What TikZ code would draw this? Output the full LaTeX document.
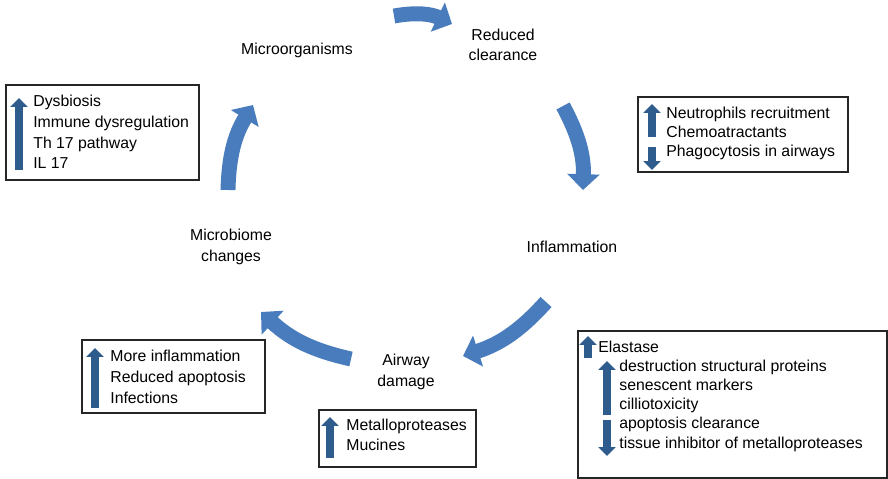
\documentclass[tikz,border=0pt]{standalone}
\usepackage{fontspec}
\setmainfont{Liberation Sans}
\usepackage{tikz}
\usetikzlibrary{arrows.meta}
\definecolor{cycleBlue}{RGB}{72,124,188}
\definecolor{markBlue}{RGB}{46,92,140}
\tikzset{every node/.style={font=\fontsize{9}{11.5}\selectfont}}
\tikzstyle{stage}=[align=center,anchor=base,inner sep=0pt]
\tikzstyle{listText}=[align=left,anchor=base west,inner sep=0pt]
\tikzstyle{infoBox}=[draw=black!85,line width=0.8pt]
\tikzstyle{cycleArrow}=[draw=cycleBlue,line width=8.5pt,-{Triangle[width=18pt,length=9pt]}]
\tikzstyle{markArrow}=[draw=markBlue,line width=4.6pt,-{Triangle[width=9.5pt,length=5pt]}]

\begin{document}
\begin{tikzpicture}[x=0.02cm,y=-0.02cm]
	\useasboundingbox (0,0) rectangle (888,479);

	% stages of the cycle
	\node at (297,55) [stage] (micro) {Microorganisms};
	\node at (503,61) [stage] (reduced) {Reduced\\clearance};
	\node at (572,253) [stage] (inflam) {Inflammation};
	\node at (406,386) [stage] (airway) {Airway\\damage};
	\node at (231,261) [stage] (microbiome) {Microbiome\\changes};

	% ends of the curved arrows
	\coordinate (a1) at (394,16);
	\coordinate (b1) at (452,24);
	\coordinate (a2) at (563,106);
	\coordinate (b2) at (583,190);
	\coordinate (a3) at (546,302);
	\coordinate (b3) at (463,356);
	\coordinate (a4) at (351,359);
	\coordinate (b4) at (261,312);
	\coordinate (a5) at (228,190);
	\coordinate (b5) at (253,105);

	\draw [cycleArrow] (a1) to[bend left=18] (b1);
	\draw [cycleArrow] (a2) to[bend left=15] (b2);
	\draw [cycleArrow] (a3) to[bend left=15] (b3);
	\draw [cycleArrow] (a4) to[bend left=15] (b4);
	\draw [cycleArrow] (a5) to[bend left=15] (b5);

	% boxes
	\draw [infoBox] (6,85) rectangle (199,180);
	\node at (33,169) [listText,font=\fontsize{9}{11.8}\selectfont] (dysbiosis) {Dysbiosis\\Immune dysregulation\\Th 17 pathway\\IL 17};
	\draw [markArrow] (19,170) -- (19,98);

	\draw [infoBox] (638,97) rectangle (848,172);
	\node at (666,157) [listText,font=\fontsize{9}{10.9}\selectfont] (neutro) {Neutrophils recruitment\\Chemoatractants\\Phagocytosis in airways};
	\draw [markArrow] (652,137) -- (652,104);
	\draw [markArrow] (652,147) -- (652,170);

	\draw [infoBox] (578,331) rectangle (887,478);
	\node at (598,352) [listText] (elastase) {Elastase};
	\node at (619,448) [listText,font=\fontsize{9}{10.9}\selectfont] (destruct) {destruction structural proteins\\senescent markers\\cilliotoxicity\\apoptosis clearance\\tissue inhibitor of metalloproteases};
	\draw [markArrow] (588,358) -- (588,336);
	\draw [markArrow] (607,415) -- (607,361);
	\draw [markArrow] (607,420) -- (607,456);

	\draw [infoBox] (82,340) rectangle (265,413);
	\node at (110,403) [listText,font=\fontsize{9}{11.8}\selectfont] (moreinf) {More inflammation\\Reduced apoptosis\\Infections};
	\draw [markArrow] (95,408) -- (95,348);

	\draw [infoBox] (319,410) rectangle (476,467);
	\node at (346,450) [listText,font=\fontsize{9}{11.3}\selectfont] (metallo) {Metalloproteases\\Mucines};
	\draw [markArrow] (330,458) -- (330,417);
\end{tikzpicture}
\end{document}
